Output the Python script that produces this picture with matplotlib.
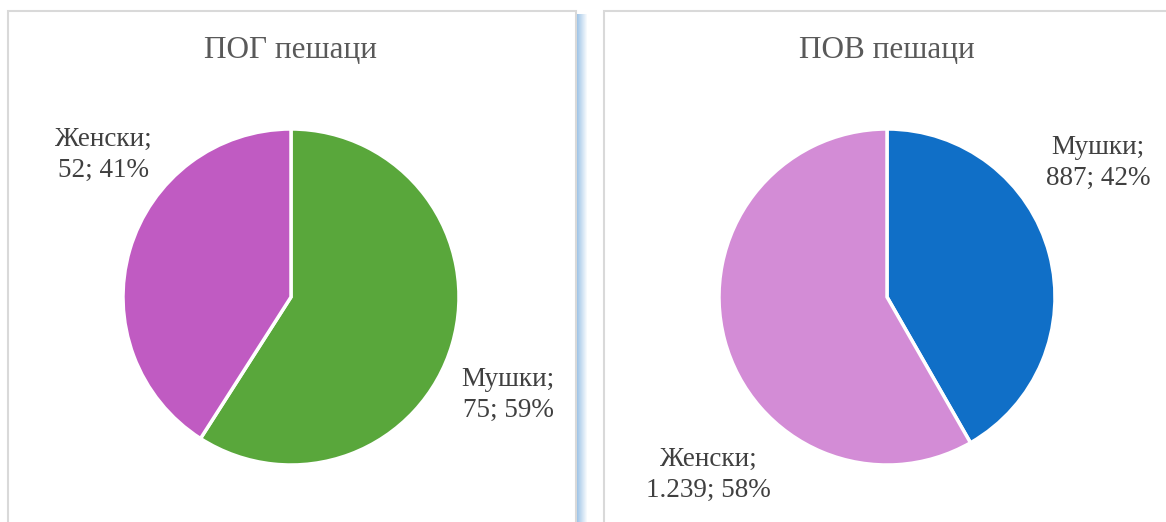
import matplotlib.pyplot as plt
from matplotlib.patches import Rectangle

plt.rcParams['font.family'] = ['Liberation Serif', 'DejaVu Serif']

W, H = 1166, 522

titles = ['ПОГ пешаци', 'ПОВ пешаци']
cats_left = ['Мушки', 'Женски']
vals_left = [75, 52]
cats_right = ['Мушки', 'Женски']
vals_right = [887, 1239]
colors_left = ['#59A73B', '#C05BC2']
colors_right = ['#106FC7', '#D38CD6']


def fmt(v):
    return f'{v:,}'.replace(',', '.')


fig = plt.figure(figsize=(W / 100, H / 100), dpi=100)
fig.patch.set_facecolor('white')

# panel frames (pixel coords), kept behind the pie axes
def px_rect(x0, y0, x1, y1, **kw):
    r = Rectangle((x0 / W, 1 - y1 / H), (x1 - x0) / W, (y1 - y0) / H,
                  transform=fig.transFigure, zorder=-5, **kw)
    fig.patches.append(r)

px_rect(7.5, 10.5, 575.5, 530, facecolor='white', edgecolor='#D9D9D9', lw=1.5)
px_rect(603.5, 10.5, 1175, 530, facecolor='white', edgecolor='#D9D9D9', lw=1.5)
# soft blue shadow on the right of the first panel
for i in range(10):
    px_rect(576.5 + i, 14, 577.5 + i, 530, facecolor='#9DC3E6', edgecolor='none',
            alpha=0.95 * (1 - i / 10))

R = 168
panels = [
    (291, 297, cats_left, vals_left, colors_left, [(508, 395), (103, 155)]),
    (887, 297, cats_right, vals_right, colors_right, [(1098, 163), (708, 475)]),
]

for k, (cx, cy, cats, vals, cols, lab_px) in enumerate(panels):
    ax = fig.add_axes([(cx - R) / W, 1 - (cy + R) / H, 2 * R / W, 2 * R / H])
    ax.pie(vals, colors=cols, startangle=90, counterclock=False, radius=1,
           wedgeprops=dict(edgecolor='white', linewidth=2.5))
    ax.set_xlim(-1, 1)
    ax.set_ylim(-1, 1)
    ax.set_aspect('equal')
    ax.axis('off')
    total = sum(vals)
    for c, v, (lx, ly) in zip(cats, vals, lab_px):
        pct = round(100 * v / total)
        ax.text((lx - cx) / R, (cy - ly) / R, f'{c};\n{fmt(v)}; {pct}%',
                ha='center', va='center', fontsize=19.5, color='#404040',
                linespacing=1.28)
    fig.text(cx / W, 1 - 51 / H, titles[k], ha='center', va='center',
             fontsize=22.5, color='#595959')

fig.savefig('out.png', dpi=100)
